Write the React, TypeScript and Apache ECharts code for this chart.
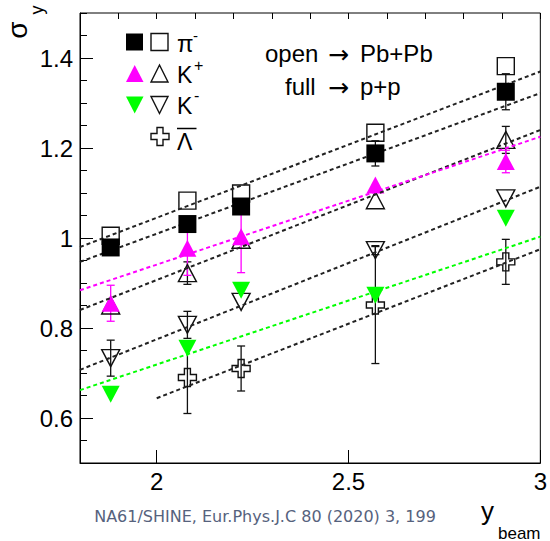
import React, { useEffect, useRef } from "react";
import * as echarts from "echarts";

// ---- data ----
const yBeam = [1.88, 2.08, 2.22, 2.57, 2.91];
const lamBeam = [2.08, 2.22, 2.57, 2.91];

const piOpen = [1.005, 1.083, 1.099, 1.234, 1.382];
const piOpenErr = [0, 0, 0, 0, 0];
const piFull = [0.979, 1.031, 1.07, 1.188, 1.325];
const piFullErr = [0, 0, 0, 0.028, 0.04];

const kpOpen = [0.85, 0.922, 0.996, 1.084, 1.218];
const kpOpenErr = [0, 0.025, 0, 0, 0.03];
const kpFull = [0.855, 0.977, 1.003, 1.118, 1.17];
const kpFullErr = [0.04, 0.06, 0.08, 0, 0.025];

const kmOpen = [0.733, 0.807, 0.858, 0.973, 1.088];
const kmOpenErr = [0.04, 0.03, 0, 0.01, 0];
const kmFull = [0.653, 0.755, 0.884, 0.873, 1.044];

const lamOpen = [0.69, 0.71, 0.851, 0.947];
const lamOpenErr = [0.08, 0.05, 0.13, 0.05];

const fitPiOpen = [[1.8, 0.98], [3.0, 1.37]];
const fitPiFull = [[1.8, 0.947], [3.0, 1.322]];
const fitKpFull = [[1.8, 0.884], [3.0, 1.225]];
const fitKpOpen = [[1.8, 0.84], [3.0, 1.24]];
const fitKmOpen = [[1.8, 0.707], [3.0, 1.114]];
const fitKmFull = [[1.8, 0.662], [3.0, 1.003]];
const fitLamOpen = [[2.0, 0.644], [3.0, 0.975]];

const xTicks = [2, 2.5, 3];
const yTicks = [0.6, 0.8, 1, 1.2, 1.4];

const FONT = "'Liberation Sans', Arial, Helvetica, sans-serif";
const MAGENTA = "#ff00ff";
const GREEN = "#00ff00";
const INK = "#111";
const crossPath =
  "path://M6,0L12,0L12,6L18,6L18,12L12,12L12,18L6,18L6,12L0,12L0,6L6,6Z";

function pts(ys: number[], xs: number[] = yBeam) {
  return xs.map((x, i) => [x, ys[i]]);
}
function errPts(ys: number[], es: number[], xs: number[] = yBeam) {
  return xs.map((x, i) => [x, ys[i], es[i]]).filter((d) => d[2] > 0);
}

function errorSeries(data: number[][], color: string) {
  return {
    type: "custom",
    data,
    z: 2,
    silent: true,
    encode: { x: 0, y: 1 },
    renderItem: (_p: any, api: any) => {
      const x = api.value(0);
      const y = api.value(1);
      const e = api.value(2);
      const t = api.coord([x, y + e]);
      const b = api.coord([x, y - e]);
      const style = { stroke: color, lineWidth: 1.3 };
      return {
        type: "group",
        children: [
          { type: "line", shape: { x1: t[0], y1: t[1], x2: b[0], y2: b[1] }, style },
          { type: "line", shape: { x1: t[0] - 4, y1: t[1], x2: t[0] + 4, y2: t[1] }, style },
          { type: "line", shape: { x1: b[0] - 4, y1: b[1], x2: b[0] + 4, y2: b[1] }, style },
        ],
      };
    },
  };
}

function openScatter(data: number[][], symbol: string, size: any, rotate = 0) {
  return {
    type: "scatter",
    data,
    symbol,
    symbolSize: size,
    symbolRotate: rotate,
    z: 3,
    silent: true,
    itemStyle: { color: "rgba(0,0,0,0)", borderColor: INK, borderWidth: 1.4, opacity: 1 },
  };
}
function fullScatter(data: number[][], symbol: string, size: any, color: string, rotate = 0, z = 4) {
  return {
    type: "scatter",
    data,
    symbol,
    symbolSize: size,
    symbolRotate: rotate,
    z,
    silent: true,
    itemStyle: { color, opacity: 1 },
  };
}
function fitLine(data: number[][], color: string) {
  return {
    type: "line",
    data,
    symbol: "none",
    showSymbol: false,
    z: 5,
    silent: true,
    lineStyle: { color, width: 2, type: [4, 3] },
  };
}

function txt(text: string, x: number, y: number, size: number, align = "left", font = FONT) {
  return {
    type: "text",
    x,
    y,
    z: 10,
    style: {
      text,
      font: `${size}px ${font}`,
      fill: "#000",
      textAlign: align,
      textVerticalAlign: "middle",
    },
  };
}

export default function App() {
  const ref = useRef<HTMLDivElement>(null);
  useEffect(() => {
    if (!ref.current) return;
    const chart = echarts.init(ref.current, null, { renderer: "svg" });
    const lw = 1.4;
    const crossPts = (cx: number, cy: number) => {
      const a = 3, b = 9;
      return [
        [cx - a, cy - b], [cx + a, cy - b], [cx + a, cy - a], [cx + b, cy - a],
        [cx + b, cy + a], [cx + a, cy + a], [cx + a, cy + b], [cx - a, cy + b],
        [cx - a, cy + a], [cx - b, cy + a], [cx - b, cy - a], [cx - a, cy - a],
      ];
    };
    const graphic: any[] = [
      // legend
      { type: "rect", shape: { x: 126, y: 33.5, width: 17, height: 17 }, style: { fill: "#000" }, z: 10 },
      { type: "rect", shape: { x: 151, y: 33.5, width: 17, height: 17 }, style: { fill: "none", stroke: INK, lineWidth: lw }, z: 10 },
      { type: "polygon", shape: { points: [[126, 82], [143.5, 82], [134.7, 65]] }, style: { fill: MAGENTA }, z: 10 },
      { type: "polygon", shape: { points: [[151, 82], [168, 82], [159.5, 65]] }, style: { fill: "none", stroke: INK, lineWidth: lw }, z: 10 },
      { type: "polygon", shape: { points: [[126, 96.5], [143.5, 96.5], [134.7, 113.5]] }, style: { fill: GREEN }, z: 10 },
      { type: "polygon", shape: { points: [[151, 96.5], [168, 96.5], [159.5, 113.5]] }, style: { fill: "none", stroke: INK, lineWidth: lw }, z: 10 },
      { type: "polygon", shape: { points: crossPts(160, 136.5) }, style: { fill: "none", stroke: INK, lineWidth: lw }, z: 10 },
      txt("π", 177, 43, 24),
      txt("-", 193, 35, 15),
      txt("K", 177, 75, 23),
      txt("+", 194, 65, 16),
      txt("K", 177, 106, 23),
      txt("-", 194, 95, 16),
      txt("Λ", 177, 142, 23),
      { type: "line", shape: { x1: 177, y1: 128.5, x2: 196.5, y2: 128.5 }, style: { stroke: "#000", lineWidth: 1.5 }, z: 10 },
      // annotation
      txt("open", 265, 53, 24),
      txt("→", 328, 54, 25, "left", "'DejaVu Sans', sans-serif"),
      txt("Pb+Pb", 360, 53, 24),
      txt("full", 285, 86, 24),
      txt("→", 328, 87, 25, "left", "'DejaVu Sans', sans-serif"),
      txt("p+p", 360, 86, 24),
      // y-axis title (rotated)
      {
        type: "group",
        x: 17,
        y: 30,
        rotation: Math.PI / 2,
        z: 10,
        children: [txt("σ", 0, 0, 28, "center")],
      },
      {
        type: "group",
        x: 37,
        y: 10,
        rotation: Math.PI / 2,
        z: 10,
        children: [txt("y", 0, 0, 18, "center")],
      },
      // x-axis title
      txt("y", 481, 511, 26),
      txt("beam", 498, 533, 17),
      // footer
      {
        type: "text",
        x: 265,
        y: 516,
        z: 10,
        style: {
          text: "NA61/SHINE, Eur.Phys.J.C 80 (2020) 3, 199",
          font: "16px 'DejaVu Sans', sans-serif",
          fill: "#56627d",
          textAlign: "center",
          textVerticalAlign: "middle",
        },
      },
    ];

    const axisCommon = {
      type: "value",
      splitLine: { show: false },
    };

    chart.setOption({
      animation: false,
      grid: {
        left: 80,
        right: 7,
        top: 13,
        bottom: 78,
        show: true,
        borderColor: "#000",
        borderWidth: 1,
        backgroundColor: "transparent",
      },
      xAxis: [
        {
          ...axisCommon,
          min: 1.8,
          max: 3,
          axisLine: { show: true, onZero: false, lineStyle: { color: "#000", width: 1 } },
          axisTick: { show: true, inside: true, length: 13, customValues: xTicks, lineStyle: { color: "#000" } },
          axisLabel: {
            show: true,
            customValues: xTicks,
            margin: 6,
            fontSize: 24,
            fontFamily: FONT,
            color: "#000",
            formatter: (v: number) => String(+v.toFixed(2)),
          },
        },
        {
          ...axisCommon,
          min: 1.8,
          max: 3,
          interval: 0.1,
          axisLine: { show: false },
          axisTick: { show: true, inside: true, length: 6, lineStyle: { color: "#000" } },
          axisLabel: { show: false },
        },
      ],
      yAxis: [
        {
          ...axisCommon,
          min: 0.5,
          max: 1.5,
          axisLine: { show: true, onZero: false, lineStyle: { color: "#000", width: 1 } },
          axisTick: { show: true, inside: true, length: 13, customValues: yTicks, lineStyle: { color: "#000" } },
          axisLabel: {
            show: true,
            customValues: yTicks,
            margin: 7,
            fontSize: 24,
            fontFamily: FONT,
            color: "#000",
            formatter: (v: number) => String(+v.toFixed(2)),
          },
        },
        {
          ...axisCommon,
          min: 0.5,
          max: 1.5,
          interval: 0.05,
          position: "left",
          axisLine: { show: false },
          axisTick: { show: true, inside: true, length: 7, lineStyle: { color: "#000" } },
          axisLabel: { show: false },
        },
      ],
      graphic,
      series: [
        errorSeries(errPts(piOpen, piOpenErr), INK),
        errorSeries(errPts(piFull, piFullErr), INK),
        errorSeries(errPts(kpOpen, kpOpenErr), INK),
        errorSeries(errPts(kpFull, kpFullErr), MAGENTA),
        errorSeries(errPts(kmOpen, kmOpenErr), INK),
        errorSeries(errPts(lamOpen, lamOpenErr, lamBeam), INK),
        openScatter(pts(piOpen), "rect", 17),
        openScatter(pts(kpOpen), "triangle", [18, 17]),
        openScatter(pts(kmOpen), "triangle", [18, 17], 180),
        openScatter(pts(lamOpen, lamBeam), crossPath, 18),
        fullScatter(pts(piFull), "rect", 18, "#000", 0, 6),
        fullScatter(pts(kpFull), "triangle", [18, 17], MAGENTA),
        fullScatter(pts(kmFull), "triangle", [18, 17], GREEN, 180),
        fitLine(fitPiOpen, "#222"),
        fitLine(fitPiFull, "#222"),
        fitLine(fitKpOpen, "#222"),
        fitLine(fitKpFull, MAGENTA),
        fitLine(fitKmOpen, "#222"),
        fitLine(fitKmFull, GREEN),
        fitLine(fitLamOpen, "#222"),
      ],
    });
    return () => chart.dispose();
  }, []);
  return (
    <div
      ref={ref}
      style={{ position: "absolute", left: 0, top: 0, width: 550, height: 541 }}
    />
  );
}
